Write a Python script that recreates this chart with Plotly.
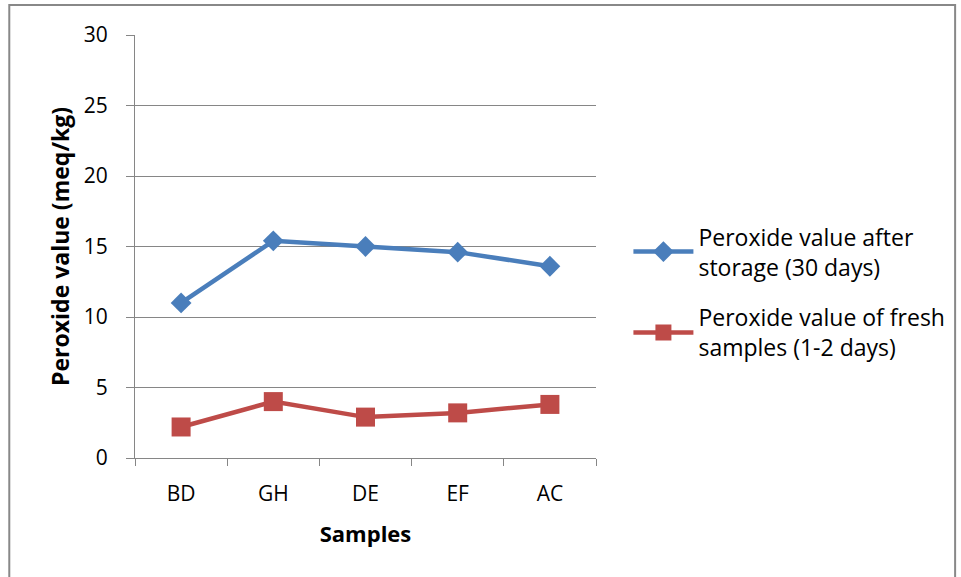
import plotly.graph_objects as go

samples = ["BD", "GH", "DE", "EF", "AC"]
after_storage = [11.0, 15.4, 15.0, 14.6, 13.6]
fresh = [2.2, 4.0, 2.9, 3.2, 3.8]
name_after = "Peroxide value after<br>storage (30 days)"
name_fresh = "Peroxide value of fresh<br>samples (1-2 days)"

FONT = "Open Sans, Liberation Sans, sans-serif"

fig = go.Figure()
fig.add_trace(go.Scatter(
    x=samples, y=after_storage, name=name_after, mode="lines+markers",
    line=dict(color="#4A7EBB", width=4.5),
    marker=dict(symbol="diamond", size=16, color="#4A7EBB"),
    legendgroup="a",
))
fig.add_trace(go.Scatter(
    x=samples, y=fresh, name=name_fresh, mode="lines+markers",
    line=dict(color="#BE4B48", width=4.5),
    marker=dict(symbol="square", size=19, color="#BE4B48"),
    legendgroup="b",
))

fig.update_layout(
    width=961, height=577,
    margin=dict(l=135, r=364, t=35, b=119),
    paper_bgcolor="white", plot_bgcolor="white",
    font=dict(family=FONT, size=21, color="#000000"),
    showlegend=True,
    legend=dict(x=1.068, y=0.574, xanchor="left", yanchor="top",
                font=dict(size=23, color="#000"), tracegroupgap=18,
                itemwidth=60, bgcolor="rgba(0,0,0,0)"),
    xaxis=dict(
        type="category", showgrid=False, showline=True, linecolor="#868686",
        linewidth=1, ticks="outside", ticklen=7, tickcolor="#868686",
        tickson="boundaries", range=[-0.5, 4.5], ticklabelstandoff=17,
        title=dict(text="<b>Samples</b>", font=dict(size=22), standoff=20),
        tickfont=dict(size=21),
    ),
    yaxis=dict(
        range=[0, 30], dtick=5, showgrid=True, gridcolor="#868686", gridwidth=1,
        showline=True, linecolor="#868686", linewidth=1, ticks="outside",
        ticklen=8, tickcolor="#868686", zeroline=False, ticklabelstandoff=14,
        title=dict(text="<b>Peroxide value (meq/kg)</b>", font=dict(size=23), standoff=7),
        tickfont=dict(size=21),
    ),
    shapes=[dict(type="rect", xref="paper", yref="paper",
                 x0=-0.2727, x1=1.779, y0=-0.35, y1=1.0709,
                 line=dict(color="#888888", width=2), fillcolor="rgba(0,0,0,0)")],
)

fig.write_html("out.html")
